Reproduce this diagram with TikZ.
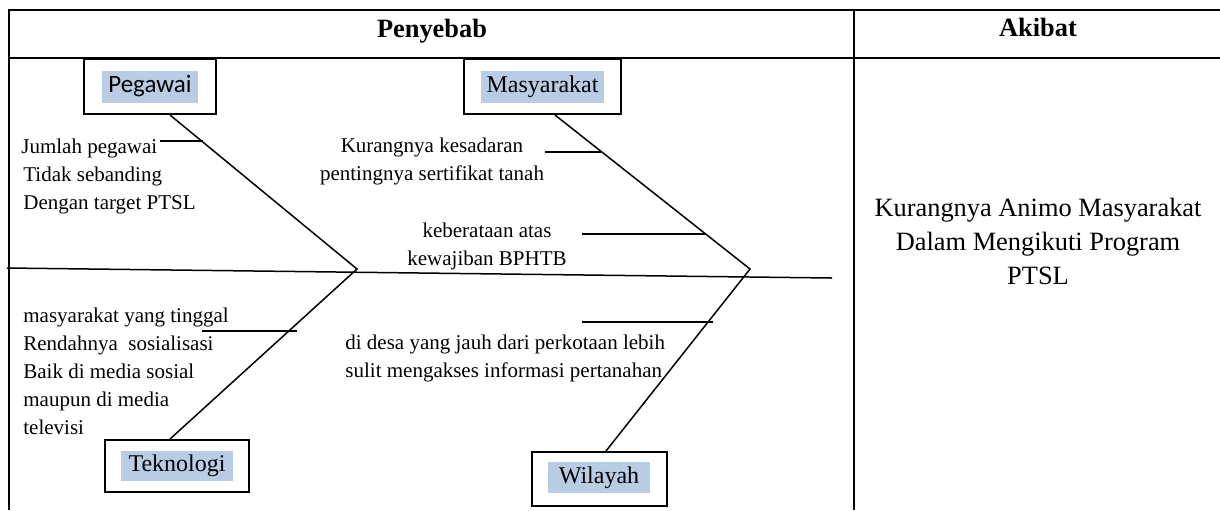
\documentclass[tikz,border=0pt]{standalone}
\usepackage{fontspec}
\setmainfont{Liberation Serif}
\newfontfamily\calibrifont{Carlito}
\usetikzlibrary{positioning}
\definecolor{HiBlue}{HTML}{B8CCE4}

\begin{document}
\begin{tikzpicture}[
  x=0.5pt, y=-0.5pt,
  grid/.style={line width=1pt},
  bone/.style={line width=0.75pt},
  catbox/.style={draw, line width=1pt, inner sep=0pt},
  hl/.style={fill=HiBlue, inner sep=0pt, minimum height=16pt, font=\fontsize{12}{14}\selectfont},
  cause/.style={inner sep=0pt, font=\fontsize{10.5}{14}\selectfont},
  head/.style={inner sep=0pt, font=\fontsize{13.2}{16}\selectfont\bfseries},
  effect/.style={inner sep=0pt, align=center, font=\fontsize{13.2}{17}\selectfont}
]
\useasboundingbox (0,0) rectangle (1220,510);

\draw[grid] (1220,10) -- (9,10) -- (9,510);
\draw[grid] (9,58) -- (1220,58);
\draw[grid] (854,10) -- (854,510);

\node[head, anchor=base] (penyebab) at (432,37) {Penyebab};
\node[head, anchor=base] (akibat) at (1038,36) {Akibat};

\node[catbox, minimum width=66pt, minimum height=27.5pt] (pegawai) at (150,86.5) {};
\node[hl, minimum width=48pt, font=\calibrifont\fontsize{12.5}{14}\selectfont] (pegawaiTxt) at (pegawai) {Pegawai};
\node[catbox, minimum width=78.5pt, minimum height=27.5pt] (masyarakat) at (542.5,86.5) {};
\node[hl, minimum width=61.5pt] (masyarakatTxt) at (masyarakat) {Masyarakat};
\node[catbox, minimum width=72pt, minimum height=26pt] (teknologi) at (177,466) {};
\node[hl, minimum width=56pt, minimum height=15pt] (teknologiTxt) at (teknologi) {Teknologi};
\node[catbox, minimum width=67.5pt, minimum height=27pt] (wilayah) at (599.5,479) {};
\node[hl, minimum width=51pt, minimum height=15.5pt] (wilayahTxt) at (599,477.5) {Wilayah};

\node[cause, align=left, anchor=west] (pegawaiCause) at (21,176)
  {Jumlah pegawai\\\hspace*{1pt}Tidak sebanding\\\hspace*{1pt}Dengan target PTSL};
\node[cause, align=center] (kesadaran) at (432,161) {Kurangnya kesadaran\\pentingnya sertifikat tanah};
\node[cause, align=center] (keberatan) at (487,246) {keberataan atas\\kewajiban BPHTB};
\node[cause, align=left, anchor=west] (sosialisasi) at (23,371)
  {masyarakat yang tinggal\\Rendahnya~ sosialisasi\\Baik di media sosial\\maupun di media\\televisi};
\node[cause, align=left, anchor=west] (desa) at (345,358)
  {di desa yang jauh dari perkotaan lebih\\sulit mengakses informasi pertanahan};
\node[effect] (animo) at (1038,241) {Kurangnya Animo Masyarakat\\Dalam Mengikuti Program\\PTSL};

\coordinate (tail) at (7,268);
\coordinate (head) at (832,278);
\coordinate (j1) at (357,269);
\coordinate (j2) at (750,269);

\draw[bone] (tail) -- (head);
\draw[bone] ([xshift=10pt]pegawai.south) -- (j1) -- ([xshift=-3.5pt]teknologi.north);
\draw[bone] ([xshift=6.25pt]masyarakat.south) -- (j2) -- ([xshift=3.25pt]wilayah.north);
\foreach \xa/\xb/\yy in {160/203/141, 545/601/152, 582/706/234, 202/297/331, 582/713/322}
  \draw[bone] (\xa,\yy) -- (\xb,\yy);
\end{tikzpicture}
\end{document}
